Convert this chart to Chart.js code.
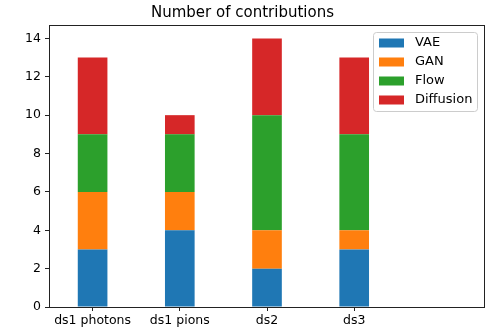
<!DOCTYPE html>
<html>
<head>
<meta charset="utf-8">
<script src="https://cdn.jsdelivr.net/npm/chart.js@4.4.1/dist/chart.umd.min.js"></script>
<style>
html,body{margin:0;padding:0;background:#fff;}
#wrap{width:487px;height:330px;}
</style>
</head>
<body>
<div id="wrap"><canvas id="c" width="487" height="330"></canvas></div>
<script>
const categories = ["ds1 photons", "ds1 pions", "ds2", "ds3", ""];
const vae       = [3, 4, 2, 3, null];
const gan       = [3, 2, 2, 1, null];
const flow      = [3, 3, 6, 5, null];
const diffusion = [4, 1, 4, 4, null];
const seriesNames = ["VAE", "GAN", "Flow", "Diffusion"];
const seriesColors = ["#1f77b4", "#ff7f0e", "#2ca02c", "#d62728"];
const yTicks = [0, 2, 4, 6, 8, 10, 12, 14];
const titleText = "Number of contributions";

const FONT = "'DejaVu Sans', sans-serif";

const frame = {
  id: 'frame',
  afterDatasetsDraw(chart) {
    const a = chart.chartArea, ctx = chart.ctx;
    ctx.save();
    ctx.strokeStyle = '#222';
    ctx.lineWidth = 1;
    ctx.strokeRect(Math.round(a.left) + 0.5, Math.round(a.top) + 0.5,
                   Math.round(a.right - a.left) - 1, Math.round(a.bottom - a.top));
    ctx.restore();
  }
};

const boxLegend = {
  id: 'boxLegend',
  afterDraw(chart) {
    const ctx = chart.ctx;
    const x0 = 373, y0 = 32, w = 104, h = 79;
    ctx.save();
    ctx.fillStyle = 'rgba(255,255,255,0.8)';
    ctx.strokeStyle = '#cccccc';
    ctx.lineWidth = 1;
    ctx.beginPath();
    ctx.roundRect(x0 + 0.5, y0 + 0.5, w, h, 3);
    ctx.fill();
    ctx.stroke();
    ctx.font = "13px " + FONT;
    ctx.textBaseline = 'middle';
    ctx.textAlign = 'left';
    chart.data.datasets.forEach((ds, i) => {
      const cy = 43 + i * 19;
      ctx.fillStyle = ds.backgroundColor;
      ctx.fillRect(379, cy - 4.5, 25, 9);
      ctx.fillStyle = '#000';
      ctx.fillText(ds.label, 415, cy);
    });
    ctx.restore();
  }
};

const dataArrays = [vae, gan, flow, diffusion];
new Chart(document.getElementById('c'), {
  type: 'bar',
  data: {
    labels: categories,
    datasets: dataArrays.map((d, i) => ({
      label: seriesNames[i],
      data: d,
      backgroundColor: seriesColors[i],
      borderWidth: 0,
      categoryPercentage: 1,
      barPercentage: 0.34
    }))
  },
  options: {
    responsive: false,
    animation: false,
    devicePixelRatio: 1,
    layout: { padding: { top: 0, right: 2, left: 0, bottom: 0 } },
    plugins: {
      legend: { display: false },
      tooltip: { enabled: false },
      title: {
        display: true,
        text: titleText,
        color: '#000',
        font: { family: FONT, size: 15, weight: 'normal' },
        padding: { top: 4, bottom: 3 }
      }
    },
    scales: {
      x: {
        stacked: true,
        grid: {
          offset: false,
          drawOnChartArea: false,
          drawTicks: true,
          tickLength: 4,
          tickColor: (c) => (c.index === 4 ? 'rgba(0,0,0,0)' : '#222')
        },
        border: { display: false },
        ticks: {
          color: '#000',
          font: { family: FONT, size: 12.5 },
          padding: 2,
          maxRotation: 0,
          autoSkip: false
        },
        afterFit(axis) { axis.height = 23; }
      },
      y: {
        stacked: true,
        min: 0,
        max: 14.7,
        grid: {
          drawOnChartArea: false,
          drawTicks: true,
          tickLength: 4,
          tickColor: '#222'
        },
        border: { display: false },
        ticks: {
          color: '#000',
          font: { family: FONT, size: 12.5 },
          padding: 4
        },
        afterBuildTicks(axis) {
          axis.ticks = yTicks.map(v => ({ value: v }));
        },
        afterFit(axis) { axis.width = 49; }
      }
    }
  },
  plugins: [frame, boxLegend]
});
</script>
</body>
</html>
